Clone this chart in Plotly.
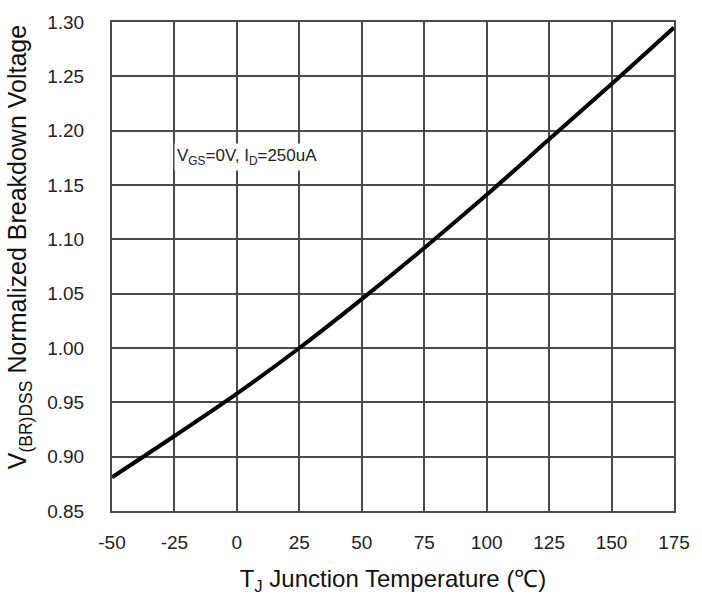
import plotly.graph_objects as go

# Junction temperature (°C) and normalized breakdown voltage V(BR)DSS
temp_c = [-50, -25, 0, 25, 50, 75, 100, 125, 150, 175]
v_norm = [0.881, 0.919, 0.958, 1.000, 1.045, 1.092, 1.141, 1.192, 1.243, 1.295]

x_ticks = [-50, -25, 0, 25, 50, 75, 100, 125, 150, 175]
y_ticks = [0.85, 0.90, 0.95, 1.00, 1.05, 1.10, 1.15, 1.20, 1.25, 1.30]
y_tick_text = [f"{v:.2f}" for v in y_ticks]

grid_col = "#4a4a4a"
font_fam = "Liberation Sans, Arial, sans-serif"

fig = go.Figure()
fig.add_trace(go.Scatter(
    x=temp_c, y=v_norm, mode="lines",
    line=dict(color="black", width=4, shape="spline", smoothing=1.0),
    hoverinfo="skip", showlegend=False,
))

# test condition label
fig.add_annotation(
    x=-25, y=1.176, xref="x", yref="y", xanchor="left", yanchor="middle",
    text="V<sub>GS</sub>=0V, I<sub>D</sub>=250uA",
    showarrow=False, bgcolor="white", borderpad=2,
    font=dict(family=font_fam, size=17, color="#222"),
)

# vertical axis title, placed as a rotated annotation
fig.add_annotation(
    x=-0.165, y=0.54, xref="paper", yref="paper", xanchor="center", yanchor="middle",
    textangle=-90, showarrow=False,
    text="V<sub>(BR)DSS</sub> Normalized Breakdown Voltage",
    font=dict(family=font_fam, size=25, color="#111"),
)

fig.update_layout(
    width=702, height=608,
    margin=dict(l=112, r=21, t=20, b=97),
    paper_bgcolor="white", plot_bgcolor="white",
    font=dict(family=font_fam, size=19, color="#222"),
    xaxis=dict(
        range=[-50, 175], tickvals=x_ticks, ticktext=[str(t) for t in x_ticks],
        showgrid=True, gridcolor=grid_col, gridwidth=2,
        showline=True, linecolor=grid_col, linewidth=2, mirror=True,
        zeroline=False, ticks="", ticklabelstandoff=13,
        title=dict(text="T<sub>J</sub> Junction Temperature (℃)", standoff=18,
                   font=dict(size=24, color="#111")),
    ),
    yaxis=dict(
        range=[0.85, 1.30], tickvals=y_ticks, ticktext=y_tick_text,
        showgrid=True, gridcolor=grid_col, gridwidth=2,
        showline=True, linecolor=grid_col, linewidth=2, mirror=True,
        zeroline=False, ticks="", ticklabelstandoff=22,
    ),
)

fig.write_html("out.html")
